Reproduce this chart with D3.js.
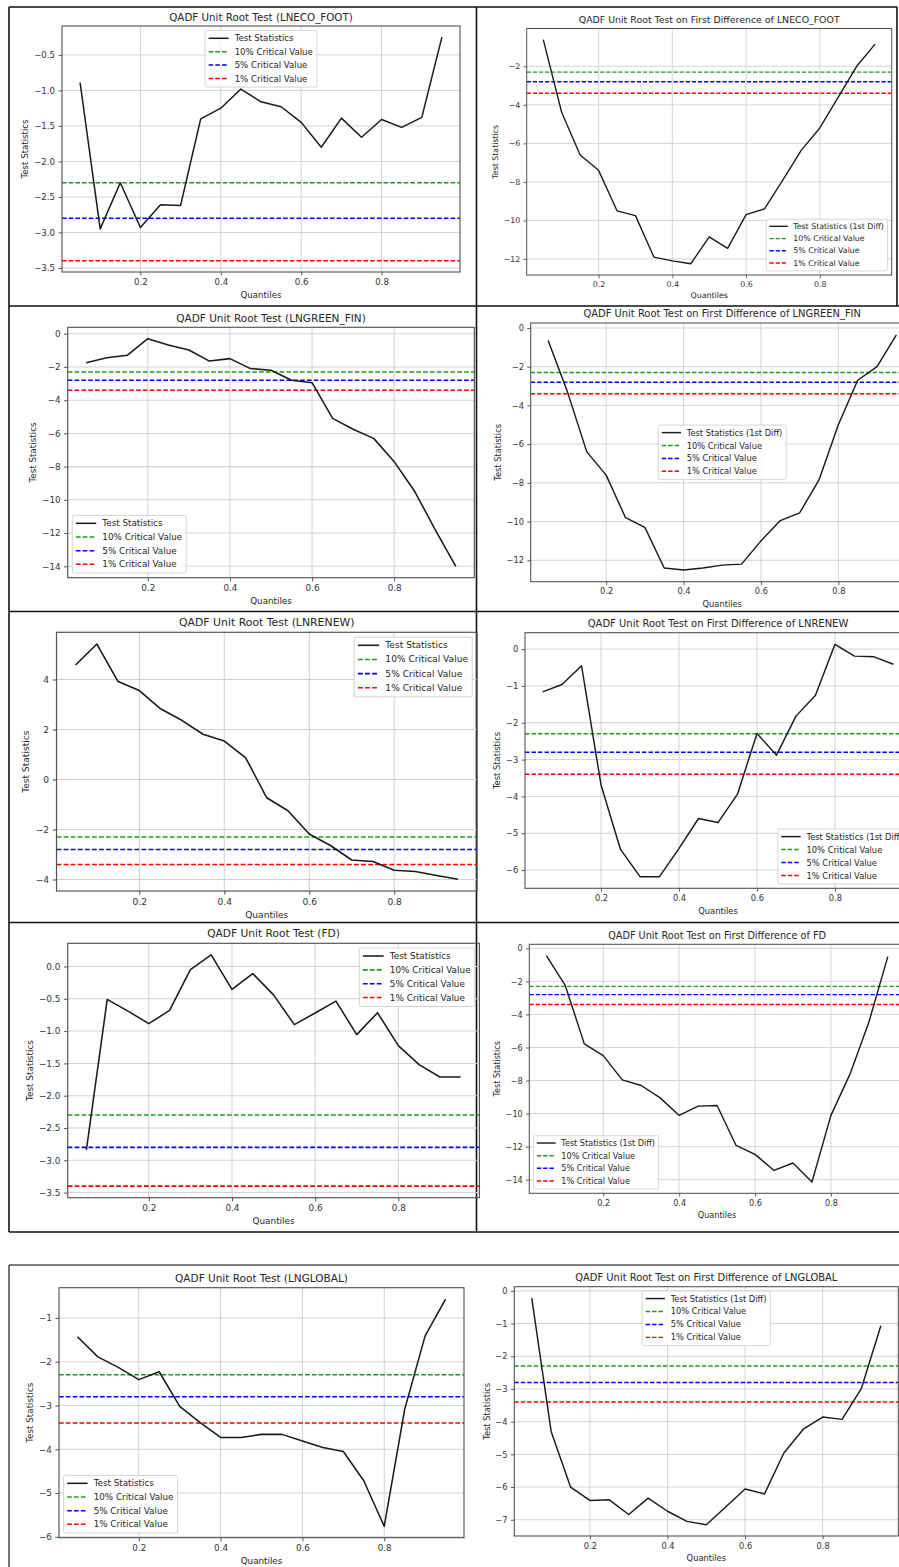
<!DOCTYPE html>
<html>
<head>
<meta charset="utf-8">
<script src="https://cdn.jsdelivr.net/npm/d3@7"></script>
<style>
body { margin: 0; background: #fff; }
svg text { font-family: "DejaVu Sans", sans-serif; fill: #262626; }
</style>
</head>
<body>
<div id="chart"></div>
<script>
var page_width = 899;
var page_height = 1567;

// quantiles and ticks
var quantiles = [0.05, 0.10, 0.15, 0.20, 0.25, 0.30, 0.35, 0.40, 0.45, 0.50,
                 0.55, 0.60, 0.65, 0.70, 0.75, 0.80, 0.85, 0.90, 0.95];
var x_ticks = [0.2, 0.4, 0.6, 0.8];

// critical values
var crit_labels = ['10% Critical Value', '5% Critical Value', '1% Critical Value'];
var crit_values = [-2.3, -2.8, -3.4];

var stat_labels = ['Test Statistics', 'Test Statistics (1st Diff)'];

// test statistics
var lneco_foot      = [-0.89, -2.95, -2.30, -2.93, -2.61, -2.62, -1.40, -1.25, -0.98, -1.16, -1.23, -1.45, -1.80, -1.39, -1.66, -1.41, -1.52, -1.38, -0.25];
var lneco_foot_diff = [-0.62, -4.4, -6.6, -7.4, -9.5, -9.75, -11.9, -12.1, -12.25, -10.85, -11.45, -9.7, -9.4, -7.9, -6.35, -5.2, -3.6, -2.0, -0.85];
var lngreen_fin      = [-1.75, -1.45, -1.3, -0.3, -0.68, -0.98, -1.65, -1.5, -2.1, -2.2, -2.8, -2.95, -5.1, -5.75, -6.3, -7.7, -9.5, -11.8, -14.0];
var lngreen_fin_diff = [-0.65, -3.3, -6.4, -7.6, -9.8, -10.3, -12.4, -12.5, -12.4, -12.25, -12.2, -11.0, -9.95, -9.55, -7.85, -5.0, -2.7, -2.0, -0.35];
var lnrenew      = [4.58, 5.42, 3.92, 3.56, 2.83, 2.37, 1.81, 1.54, 0.88, -0.73, -1.25, -2.18, -2.64, -3.22, -3.28, -3.63, -3.68, -3.84, -3.99];
var lnrenew_diff = [-1.16, -0.96, -0.45, -3.69, -5.44, -6.18, -6.18, -5.41, -4.6, -4.71, -3.94, -2.29, -2.88, -1.82, -1.25, 0.13, -0.19, -0.21, -0.41];
var fd      = [-2.84, -0.51, -0.69, -0.885, -0.68, -0.05, 0.18, -0.355, -0.11, -0.44, -0.90, -0.72, -0.535, -1.055, -0.715, -1.225, -1.52, -1.71, -1.71];
var fd_diff = [-0.44, -2.26, -5.78, -6.49, -7.96, -8.3, -9.05, -10.11, -9.55, -9.51, -11.93, -12.47, -13.44, -12.99, -14.14, -10.11, -7.63, -4.47, -0.5];
var lnglobal      = [-1.43, -1.89, -2.13, -2.41, -2.23, -3.02, -3.39, -3.73, -3.73, -3.66, -3.66, -3.81, -3.96, -4.05, -4.72, -5.76, -3.09, -1.41, -0.57];
var lnglobal_diff = [-0.22, -4.3, -6.0, -6.41, -6.39, -6.84, -6.34, -6.74, -7.05, -7.15, -6.61, -6.06, -6.21, -4.96, -4.23, -3.86, -3.93, -2.98, -1.07];

var titles = [
    'QADF Unit Root Test (LNECO_FOOT)', 'QADF Unit Root Test on First Difference of LNECO_FOOT',
    'QADF Unit Root Test (LNGREEN_FIN)', 'QADF Unit Root Test on First Difference of LNGREEN_FIN',
    'QADF Unit Root Test (LNRENEW)', 'QADF Unit Root Test on First Difference of LNRENEW',
    'QADF Unit Root Test (FD)', 'QADF Unit Root Test on First Difference of FD',
    'QADF Unit Root Test (LNGLOBAL)', 'QADF Unit Root Test on First Difference of LNGLOBAL'
];
var y_steps = [0.5, 2, 2, 2, 2, 1, 0.5, 2, 1, 1];

var crit_colors = ['#1f9a1f', '#0000ff', '#ff0000'];

// each screenshot: axes box, font scale, legend spot
var panels = [
    {data: lneco_foot,       diff: 0, l: 62,    r: 460,   t: 26,     b: 272,    s: 1.0,   loc: 'upper center'},
    {data: lneco_foot_diff,  diff: 1, l: 526.7, r: 891.7, t: 28.5,   b: 275,    s: 0.913, loc: 'lower right'},
    {data: lngreen_fin,      diff: 0, l: 67.7,  r: 474.3, t: 327.3,  b: 577.7,  s: 1.02,  loc: 'lower left'},
    {data: lngreen_fin_diff, diff: 1, l: 530.7, r: 913.8, t: 323,    b: 581.7,  s: 0.963, loc: 'center'},
    {data: lnrenew,          diff: 0, l: 56.5,  r: 477,   t: 632.3,  b: 891,    s: 1.057, loc: 'upper right'},
    {data: lnrenew_diff,     diff: 1, l: 525,   r: 911,   t: 632.7,  b: 888.3,  s: 0.97,  loc: 'lower right'},
    {data: fd,               diff: 0, l: 67.7,  r: 479.4, t: 943.3,  b: 1197.7, s: 1.034, loc: 'upper right'},
    {data: fd_diff,          diff: 1, l: 529.3, r: 904.9, t: 944.3,  b: 1193.3, s: 0.943, loc: 'lower left'},
    {data: lnglobal,         diff: 0, l: 59,    r: 464,   t: 1287.7, b: 1537.7, s: 1.02,  loc: 'lower left'},
    {data: lnglobal_diff,    diff: 1, l: 514.3, r: 898.3, t: 1286.7, b: 1536,   s: 0.965, loc: 'upper center'}
];

var svg = d3.select('#chart')
            .append('svg')
            .attr('width', page_width)
            .attr('height', page_height);

// table borders around the pasted screenshots
var border = svg.append('g').attr('stroke', '#111').attr('stroke-width', 1.6);
[7, 306, 611.5, 922.5, 1232].forEach(function(yy, i){
    border.append('line').attr('x1', 9).attr('x2', i == 0 ? 897 : page_width)
        .attr('y1', yy).attr('y2', yy);
});
border.append('line').attr('x1', 9).attr('x2', 9).attr('y1', 7).attr('y2', 1232);
border.append('line').attr('x1', 476.5).attr('x2', 476.5).attr('y1', 7).attr('y2', 1232);
border.append('line').attr('x1', 897).attr('x2', 897).attr('y1', 7).attr('y2', 306);
border.append('line').attr('x1', 9).attr('x2', page_width).attr('y1', 1265).attr('y2', 1265).attr('stroke', '#555');
border.append('line').attr('x1', 9).attr('x2', 9).attr('y1', 1265).attr('y2', page_height).attr('stroke', '#555');

panels.forEach(function(p, i){
    var s = p.s;
    var g = svg.append('g');
    var all = p.data.concat(crit_values);
    var lo = d3.min(all), hi = d3.max(all), pad = (hi - lo) * 0.05;
    var x = d3.scaleLinear().domain([0.005, 0.995]).range([p.l, p.r]);
    var y = d3.scaleLinear().domain([lo - pad, hi + pad]).range([p.b, p.t]);
    var step = y_steps[i];
    var y_ticks = d3.range(Math.ceil((lo - pad) / step), Math.floor((hi + pad) / step) + 1)
                    .map(function(k){ return k * step; });

    var clip_id = 'clip' + i;
    g.append('clipPath').attr('id', clip_id)
        .append('rect').attr('x', p.l).attr('y', p.t)
        .attr('width', p.r - p.l).attr('height', p.b - p.t);
    var inner = g.append('g').attr('clip-path', 'url(#' + clip_id + ')');

    // grid
    inner.selectAll('.gx').data(x_ticks).enter().append('line')
        .attr('x1', function(d){ return x(d); }).attr('x2', function(d){ return x(d); })
        .attr('y1', p.t).attr('y2', p.b)
        .attr('stroke', '#d2d2d2').attr('stroke-width', 1 * s);
    inner.selectAll('.gy').data(y_ticks).enter().append('line')
        .attr('y1', function(d){ return y(d); }).attr('y2', function(d){ return y(d); })
        .attr('x1', p.l).attr('x2', p.r)
        .attr('stroke', '#d2d2d2').attr('stroke-width', 1 * s);

    // critical lines
    inner.selectAll('.crit').data(crit_values).enter().append('line')
        .attr('x1', p.l).attr('x2', p.r)
        .attr('y1', function(d){ return y(d); }).attr('y2', function(d){ return y(d); })
        .attr('stroke', function(d, j){ return crit_colors[j]; })
        .attr('stroke-width', 1.5 * s)
        .attr('stroke-dasharray', (4.6 * s) + ',' + (2.1 * s));

    // test statistics
    var line = d3.line()
        .x(function(d, j){ return x(quantiles[j]); })
        .y(function(d){ return y(d); });
    inner.append('path').datum(p.data)
        .attr('d', line)
        .attr('fill', 'none')
        .attr('stroke', '#1a1a1a')
        .attr('stroke-width', 1.5 * s)
        .attr('stroke-linejoin', 'round');

    // axes
    var fs = 8.6 * s;
    var xAxis = g.append('g').attr('transform', 'translate(0,' + p.b + ')')
        .call(d3.axisBottom(x).tickValues(x_ticks).tickFormat(d3.format('.1f'))
              .tickSize(3.5 * s).tickPadding(3.5 * s));
    var yAxis = g.append('g').attr('transform', 'translate(' + p.l + ',0)')
        .call(d3.axisLeft(y).tickValues(y_ticks).tickFormat(d3.format(step < 1 ? '.1f' : 'd'))
              .tickSize(3.5 * s).tickPadding(3.5 * s));
    [xAxis, yAxis].forEach(function(a){
        a.select('.domain').remove();
        a.selectAll('line').attr('stroke', '#444').attr('stroke-width', 0.9 * s);
        a.selectAll('text').attr('font-size', fs).style('fill', '#333');
    });
    var maxW = 0;
    yAxis.selectAll('text').each(function(){ maxW = Math.max(maxW, this.getComputedTextLength()); });

    g.append('rect').attr('x', p.l).attr('y', p.t)
        .attr('width', p.r - p.l).attr('height', p.b - p.t)
        .attr('fill', 'none').attr('stroke', '#505050').attr('stroke-width', 1.1 * s);

    // titles and labels
    var cx = (p.l + p.r) / 2;
    g.append('text').text(titles[i])
        .attr('x', cx).attr('y', p.t - 9.5 * s)
        .attr('text-anchor', 'middle').attr('dominant-baseline', 'central')
        .attr('font-size', 10.3 * s);
    g.append('text').text('Quantiles')
        .attr('x', cx).attr('y', p.b + 23 * s)
        .attr('text-anchor', 'middle').attr('dominant-baseline', 'central')
        .attr('font-size', fs);
    var ly = (p.t + p.b) / 2, lx = p.l - 7 * s - maxW - 9 * s;
    g.append('text').text('Test Statistics')
        .attr('transform', 'translate(' + lx + ',' + ly + ') rotate(-90)')
        .attr('text-anchor', 'middle').attr('dominant-baseline', 'central')
        .attr('font-size', fs);

    // legend
    var names = [stat_labels[p.diff]].concat(crit_labels);
    var colors = ['#1a1a1a'].concat(crit_colors);
    var lg = g.append('g');
    var box = lg.append('rect');
    var rowH = 13.4 * s, padL = 3.5 * s, handle = 20 * s, gap = 6 * s;
    var textW = 0;
    names.forEach(function(n, j){
        var ry = 7.8 * s + j * rowH;
        lg.append('line').attr('x1', padL).attr('x2', padL + handle)
            .attr('y1', ry).attr('y2', ry)
            .attr('stroke', colors[j]).attr('stroke-width', 1.5 * s)
            .attr('stroke-dasharray', j == 0 ? null : (4.6 * s) + ',' + (2.1 * s));
        var t = lg.append('text').text(n)
            .attr('x', padL + handle + gap).attr('y', ry)
            .attr('dominant-baseline', 'central').attr('font-size', fs);
        textW = Math.max(textW, t.node().getComputedTextLength());
    });
    var bw = padL + handle + gap + textW + 4 * s;
    var bh = 7.8 * s + 3 * rowH + 8.6 * s;
    box.attr('width', bw).attr('height', bh).attr('rx', 2 * s)
        .attr('fill', '#fff').attr('fill-opacity', 0.85)
        .attr('stroke', '#d0d0d0').attr('stroke-width', 0.9 * s);
    var ap = 4.5 * s, bx, by;
    if (p.loc.indexOf('left') >= 0) bx = p.l + ap;
    else if (p.loc.indexOf('right') >= 0) bx = p.r - ap - bw;
    else bx = cx - bw / 2;
    if (p.loc.indexOf('upper') >= 0) by = p.t + ap;
    else if (p.loc.indexOf('lower') >= 0) by = p.b - ap - bh;
    else by = (p.t + p.b) / 2 - bh / 2;
    lg.attr('transform', 'translate(' + bx + ',' + by + ')');
});
</script>
</body>
</html>
